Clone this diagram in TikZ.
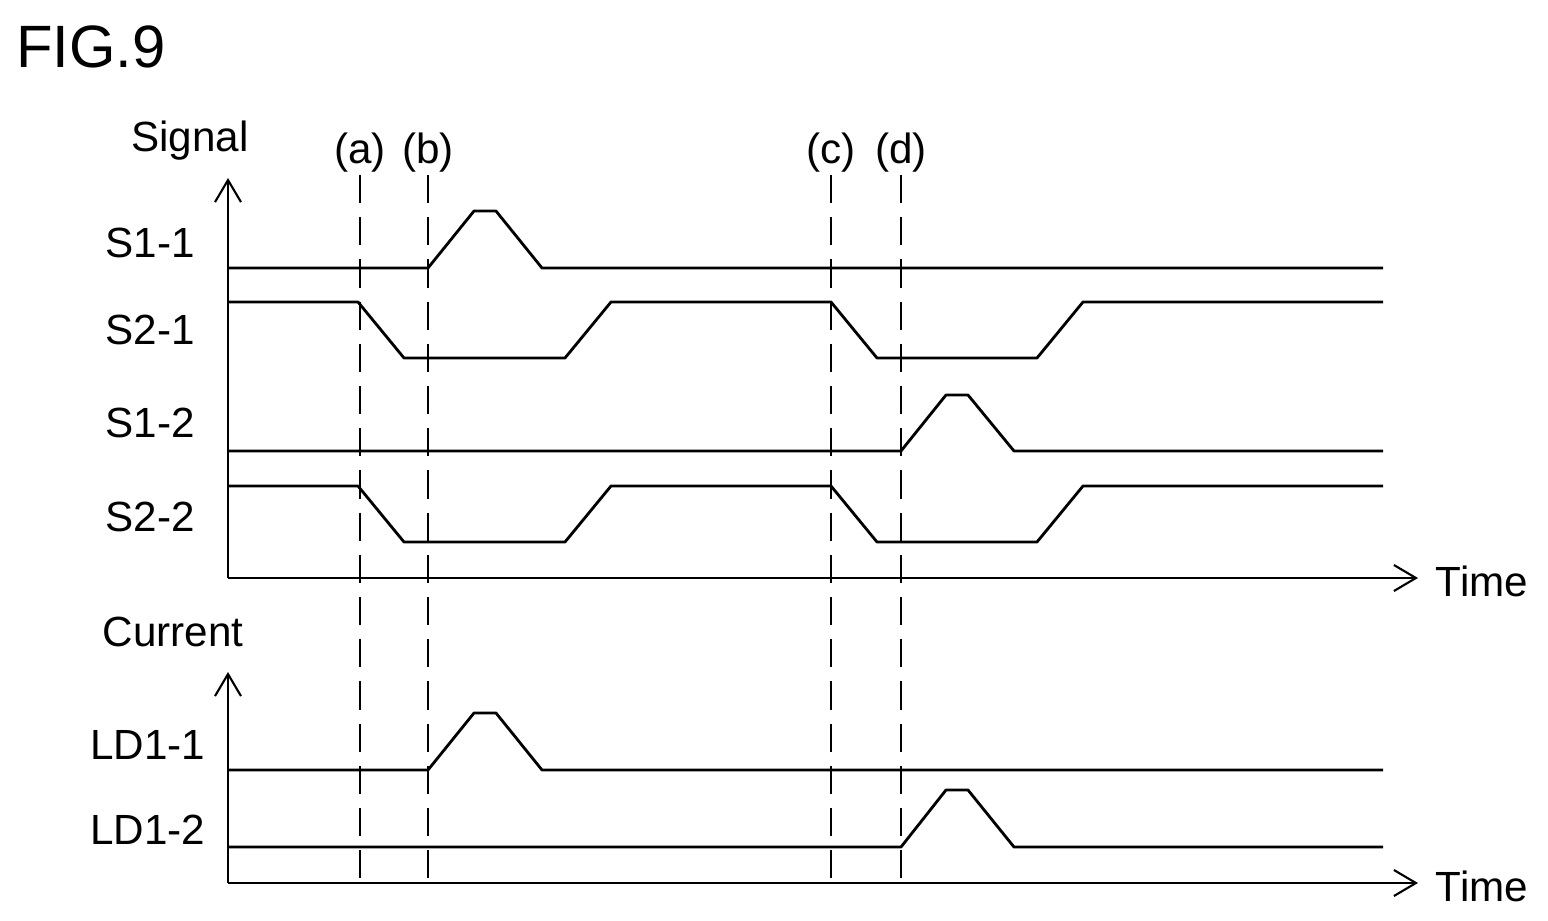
\documentclass[tikz,border=0pt]{standalone}
\usepackage{fontspec}
\setmainfont{Liberation Sans}
\usetikzlibrary{arrows.meta}

\begin{document}
\begin{tikzpicture}[
        x=0.01cm, y=-0.01cm,
        lbl/.style={font=\fontsize{12}{14}\selectfont, inner sep=0pt},
        axis/.style={semithick, -{Straight Barb[length=0.22cm, width=0.26cm]}},
        wave/.style={thick, line join=round},
        tmark/.style={semithick, dash pattern=on 8pt off 4pt}
    ]
        \useasboundingbox (0,0) rectangle (1548,921);
        \node[font=\fontsize{17}{20}\selectfont, inner sep=0pt] (fig) at (91,47) {FIG.9};

        % axes
        \coordinate (o1) at (228,578);
        \coordinate (o2) at (228,883);
        \draw[axis] (o1) -- (228,178);
        \draw[axis] (o1) -- (1418,578);
        \draw[axis] (o2) -- (228,672);
        \draw[axis] (o2) -- (1418,883);
        \node[lbl] (sig) at (190,141) {Signal};
        \node[lbl] (cur) at (173,632) {Current};
        \node[lbl] (t1) at (1482,581) {Time};
        \node[lbl] (t2) at (1482,886) {Time};

        % timing marks
        \foreach \x/\t in {360/a, 428/b, 831/c, 901/d} {
            \node[lbl] (m\t) at (\x,153) {(\t)};
            \draw[tmark] (\x,175) -- (\x,883);
        }

        % channel labels
        \node[lbl] (s11) at (150,243) {S1-1};
        \node[lbl] (s21) at (150,330) {S2-1};
        \node[lbl] (s12) at (150,423) {S1-2};
        \node[lbl] (s22) at (150,517) {S2-2};
        \node[lbl] (ld11) at (148,745) {LD1-1};
        \node[lbl] (ld12) at (148,830) {LD1-2};

        % waveforms
        \draw[wave] (228,268) -- (428,268) -- (474,211) -- (496,211) -- (542,268) -- (1383,268);
        \foreach \h/\l in {302/358, 486/542} {
            \draw[wave] (228,\h) -- (358,\h) -- (404,\l) -- (565,\l) -- (611,\h) -- (831,\h)
                -- (877,\l) -- (1037,\l) -- (1083,\h) -- (1383,\h);
        }
        \draw[wave] (228,451) -- (901,451) -- (946,395) -- (968,395) -- (1014,451) -- (1383,451);
        \draw[wave] (228,770) -- (428,770) -- (474,713) -- (496,713) -- (542,770) -- (1383,770);
        \draw[wave] (228,847) -- (901,847) -- (946,790) -- (968,790) -- (1014,847) -- (1383,847);
    \end{tikzpicture}
\end{document}
